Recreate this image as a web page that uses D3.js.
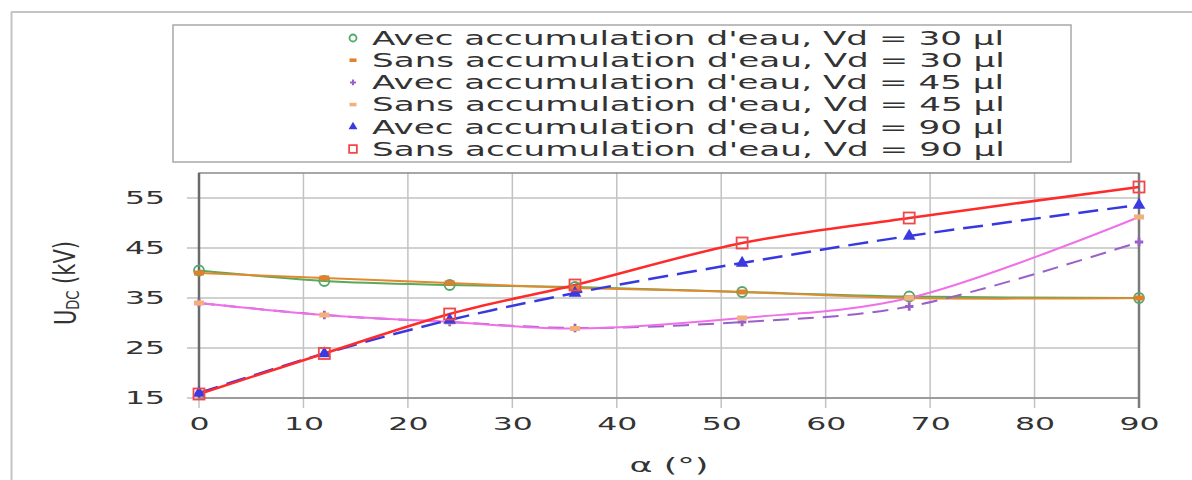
<!DOCTYPE html>
<html>
<head>
<meta charset="utf-8">
<script src="https://cdn.jsdelivr.net/npm/d3@7"></script>
<style>
  html, body { margin: 0; padding: 0; background: #fff; }
  svg { display: block; }
  text { font-family: "DejaVu Sans", Verdana, sans-serif; fill: #333; }
</style>
</head>
<body>
<svg id="chart" width="1192" height="480"></svg>
<script>
// ---------- data ----------
const alphaValues = [0, 12, 24, 36, 52, 68, 90];
const avec30 = [40.5, 38.4, 37.6, 37.2, 36.2, 35.3, 35.0];
const sans30 = [40.0, 39.0, 38.0, 37.0, 36.2, 35.0, 35.0];
const avec45 = [34.0, 31.6, 30.2, 29.0, 30.2, 33.3, 46.2];
const sans45 = [34.0, 31.6, 30.2, 28.9, 31.0, 35.0, 51.2];
const avec90 = [16.0, 23.9, 30.6, 36.0, 42.0, 47.4, 53.6];
const sans90 = [15.8, 23.9, 31.8, 37.6, 46.0, 51.0, 57.2];
const seriesNames = [
  "Avec accumulation d'eau, Vd = 30 µl",
  "Sans accumulation d'eau, Vd = 30 µl",
  "Avec accumulation d'eau, Vd = 45 µl",
  "Sans accumulation d'eau, Vd = 45 µl",
  "Avec accumulation d'eau, Vd = 90 µl",
  "Sans accumulation d'eau, Vd = 90 µl"
];
const xTicks = [0, 10, 20, 30, 40, 50, 60, 70, 80, 90];
const yTicks = [15, 25, 35, 45, 55];
const xTitle = "α (°)";

// ---------- styles ----------
const styles = [
  { values: avec30, line: "#5aa85a", marker: "circle", mcolor: "#4fa86a", dash: null, w: 2 },
  { values: sans30, line: "#e08a30", marker: "dash", mcolor: "#e0802a", dash: null, w: 2 },
  { values: avec45, line: "#9a60c8", marker: "plus", mcolor: "#9a60c8", dash: "16,9", w: 2 },
  { values: sans45, line: "#f070e8", marker: "dash", mcolor: "#f4b07a", dash: null, w: 2 },
  { values: avec90, line: "#3838e0", marker: "triangle", mcolor: "#3a3ae0", dash: "20,9", w: 2.5 },
  { values: sans90, line: "#ff2a2a", marker: "square", mcolor: "#f04848", dash: null, w: 2.5 }
];

const S = 1.75; // horizontal stretch of the reference picture's text
function stretch(sel, f) {
  sel.each(function () {
    const len = this.getComputedTextLength();
    d3.select(this).attr("textLength", len * (f || S)).attr("lengthAdjust", "spacingAndGlyphs");
  });
}

const svg = d3.select("#chart");

// outer frame
svg.append("line").attr("x1", 11.5).attr("x2", 11.5).attr("y1", 12).attr("y2", 480)
  .attr("stroke", "#c4c4c4").attr("stroke-width", 2);
svg.append("line").attr("x1", 11).attr("x2", 1192).attr("y1", 12).attr("y2", 12)
  .attr("stroke", "#c4c4c4").attr("stroke-width", 2);

const plot = { left: 199, right: 1139, top: 173, bottom: 398 };
const x = d3.scaleLinear().domain([0, 90]).range([plot.left, plot.right]);
const y = d3.scaleLinear().domain([15, 60]).range([plot.bottom, plot.top]);

// grid
const grid = svg.append("g");
grid.selectAll(".vg").data(xTicks).join("line")
  .attr("x1", d => x(d)).attr("x2", d => x(d)).attr("y1", plot.top).attr("y2", plot.bottom + 10)
  .attr("stroke", "#c2c2c2").attr("stroke-width", 1.5);
grid.selectAll(".hg").data(yTicks).join("line")
  .attr("x1", plot.left - 12).attr("x2", plot.right).attr("y1", d => y(d)).attr("y2", d => y(d))
  .attr("stroke", "#c2c2c2").attr("stroke-width", 1.5);

// plot frame
svg.append("rect").attr("x", plot.left).attr("y", plot.top)
  .attr("width", plot.right - plot.left).attr("height", plot.bottom - plot.top)
  .attr("fill", "none").attr("stroke", "#8a8a8a").attr("stroke-width", 1.5);
svg.append("line").attr("x1", plot.left).attr("x2", plot.left).attr("y1", plot.top).attr("y2", plot.bottom)
  .attr("stroke", "#6a6a6a").attr("stroke-width", 2.5);
svg.append("line").attr("x1", plot.right).attr("x2", plot.right).attr("y1", plot.top).attr("y2", plot.bottom + 10)
  .attr("stroke", "#7a7a7a").attr("stroke-width", 2.5);

// axes (labels through d3 axes)
const xAxis = svg.append("g").attr("transform", `translate(0,${plot.bottom})`)
  .call(d3.axisBottom(x).tickValues(xTicks).tickSize(0).tickPadding(16).tickFormat(d3.format("d")));
xAxis.select(".domain").remove();
xAxis.selectAll("text").attr("font-size", 18).attr("fill", "#333")
  .style("font-family", "DejaVu Sans").attr("dy", "0.9em");
stretch(xAxis.selectAll("text"));

const yAxis = svg.append("g").attr("transform", `translate(${plot.left},0)`)
  .call(d3.axisLeft(y).tickValues(yTicks).tickSize(0).tickPadding(34).tickFormat(d3.format("d")));
yAxis.select(".domain").remove();
yAxis.selectAll("text").attr("font-size", 18).attr("fill", "#333").style("font-family", "DejaVu Sans");
stretch(yAxis.selectAll("text"));

// axis titles
const xt = svg.append("text").attr("x", (plot.left + plot.right) / 2).attr("y", 472)
  .attr("text-anchor", "middle").attr("font-size", 20).text(xTitle);
stretch(xt);

const yt = svg.append("text").attr("text-anchor", "middle").attr("font-size", 21)
  .attr("transform", `translate(66,283) scale(1.4,1) rotate(-90)`).attr("dy", "0.35em");
yt.append("tspan").text("U");
yt.append("tspan").attr("font-size", 13).attr("dy", "0.15em").text("DC");
yt.append("tspan").attr("dy", "-0.15em").text(" (kV)");

// lines
const lines = svg.append("g");
styles.forEach(s => {
  const pts = alphaValues.map((a, i) => [a, s.values[i]]);
  const line = d3.line().x(d => x(d[0])).y(d => y(d[1])).curve(d3.curveCatmullRom.alpha(0.5));
  lines.append("path").attr("d", line(pts)).attr("fill", "none")
    .attr("stroke", s.line).attr("stroke-width", s.w)
    .attr("stroke-dasharray", s.dash);
});

// markers
function drawMarker(g, type, color, cx, cy, k) {
  k = k || 1;
  if (type === "circle") {
    g.append("circle").attr("cx", cx).attr("cy", cy).attr("r", 5 * k)
      .attr("fill", "none").attr("stroke", color).attr("stroke-width", 1.8);
  } else if (type === "dash") {
    g.append("rect").attr("x", cx - 5 * k).attr("y", cy - 2.5 * k).attr("width", 10 * k).attr("height", 5 * k)
      .attr("fill", color);
  } else if (type === "plus") {
    g.append("path").attr("d", d3.symbol(d3.symbolCross, 40 * k * k)()).attr("transform", `translate(${cx},${cy})`)
      .attr("fill", color);
  } else if (type === "triangle") {
    g.append("path").attr("d", d3.symbol(d3.symbolTriangle, 70 * k * k)()).attr("transform", `translate(${cx},${cy})`)
      .attr("fill", color);
  } else if (type === "square") {
    g.append("rect").attr("x", cx - 5.5 * k).attr("y", cy - 5.5 * k).attr("width", 11 * k).attr("height", 11 * k)
      .attr("fill", "none").attr("stroke", color).attr("stroke-width", 1.8);
  }
}
const mg = svg.append("g");
styles.forEach(s => {
  alphaValues.forEach((a, i) => drawMarker(mg, s.marker, s.mcolor, x(a), y(s.values[i]), 1));
});

// legend
const lg = svg.append("g");
lg.append("rect").attr("x", 173).attr("y", 25).attr("width", 898).attr("height", 137)
  .attr("fill", "#fff").attr("stroke", "#a8a8a8").attr("stroke-width", 1.5);
seriesNames.forEach((name, i) => {
  const cy = 38 + i * 22.2;
  drawMarker(lg, styles[i].marker, styles[i].mcolor, 353, cy, 0.7);
  const t = lg.append("text").attr("x", 372).attr("y", cy).attr("dy", "0.36em")
    .attr("font-size", 19).attr("fill", "#222").text(name);
  stretch(t, 1.8);
});
</script>
</body>
</html>
